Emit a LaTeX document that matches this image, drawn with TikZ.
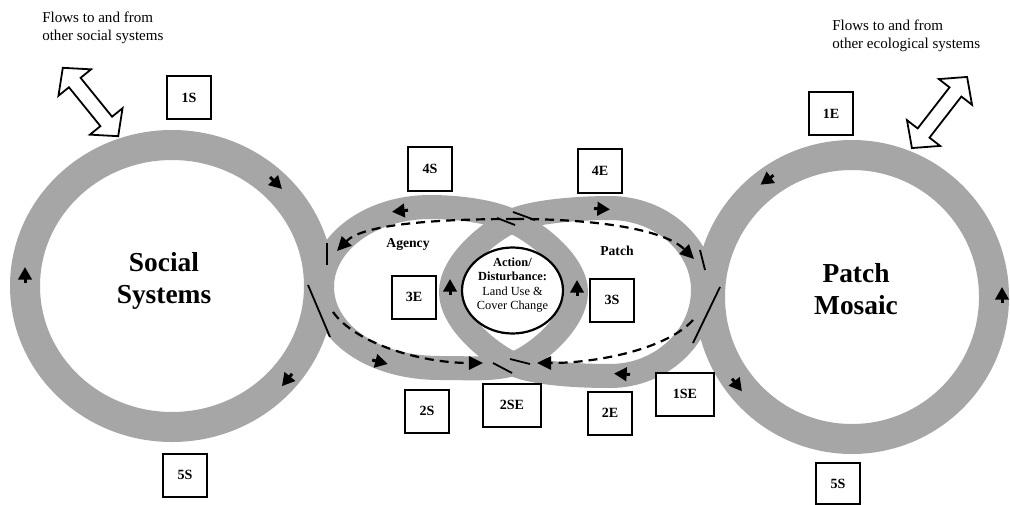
\documentclass[tikz,border=0pt]{standalone}
\usepackage{fontspec}
\setmainfont{Liberation Serif}
\usetikzlibrary{arrows.meta,shapes.geometric}
\newlength\upx
\setlength\upx{0.025cm}
\definecolor{band}{RGB}{166,166,166}
\begin{document}
\begin{tikzpicture}[x=0.025cm, y=-0.025cm,
  bandL/.style={draw=band, line width=30\upx},
  bandM/.style={draw=band, line width=24\upx},
  edgeline/.style={draw=black, line width=1.8\upx},
  flowmark/.style={draw=black, line width=3\upx, -{Triangle[length=9pt,width=9.5pt]}},
  dashflow/.style={draw=black, line width=2.2\upx, dash pattern=on 9\upx off 6\upx, -{Triangle[length=10pt,width=9.5pt]}},
  labelbox/.style={draw=black, line width=2\upx, fill=white, inner sep=0pt, minimum width=44\upx, minimum height=43\upx, font=\fontsize{10}{12}\selectfont\bfseries},
  widebox/.style={labelbox, minimum width=58\upx},
  bigtitle/.style={align=center, font=\fontsize{19.5}{23}\selectfont\bfseries},
  looptitle/.style={font=\fontsize{9.7}{11}\selectfont\bfseries},
  note/.style={align=left, anchor=north west, inner sep=0pt, font=\fontsize{10.7}{12.8}\selectfont},
  flowarrow/.style={draw=black, fill=white, line width=1.8\upx, line join=miter}
]
\useasboundingbox (0,0) rectangle (1010,505);
\fill[white] (0,0) rectangle (1010,505);

% big rings
\draw[bandL] (172,286) ellipse [x radius=147, y radius=141];
\draw[bandL] (852,297) ellipse [x radius=142, y radius=142];

% crossing points of the middle loops
\coordinate (T) at (512,221);
\coordinate (B) at (513,364);

% Agency loop
\draw[bandM] (T) .. controls (489.5,210.5) and (455,207) .. (430,207)
  .. controls (370,207) and (322,243) .. (322,287)
  .. controls (322,331) and (370,368) .. (440,368)
  .. controls (470,368) and (493,370) .. (B)
  .. controls (536.5,355.5) and (576,322) .. (576,292)
  .. controls (576,262) and (534.5,231.5) .. (T);
% Patch loop
\draw[bandM] (T) .. controls (534.5,210.5) and (585,208) .. (610,208)
  .. controls (661,208) and (703,245) .. (703,290)
  .. controls (703,337) and (661,376) .. (610,376)
  .. controls (585,376) and (535.5,374.5) .. (B)
  .. controls (490.5,353.5) and (451,322) .. (451,292)
  .. controls (451,262) and (489.5,231.5) .. (T);

% edge lines at overlaps
\draw[edgeline] (327,243) -- (327,265);
\draw[edgeline] (308,285) -- (330,337);
\draw[edgeline] (700,250) -- (705,270);
\draw[edgeline] (720,287) -- (693,343);
\draw[edgeline] (497,218) -- (515,225);
\draw[edgeline] (513,212) -- (535,220);
\draw[edgeline] (493,363) -- (512,373);
\draw[edgeline] (510,359) -- (530,364);

% flow marks on the bands
\draw[flowmark] (270,177) -- (282,189);
\draw[flowmark] (25,283) -- (25,267);
\draw[flowmark] (292.1,373.8) -- (281.9,386.2);
\draw[flowmark] (773.5,175.3) -- (760.5,184.7);
\draw[flowmark] (1002,303) -- (1002,287);
\draw[flowmark] (732.1,378.7) -- (741.9,391.3);
\draw[flowmark] (408,210.2) -- (392,211.8);
\draw[flowmark] (372.2,360) -- (387.8,364);
\draw[flowmark] (594,208.6) -- (610,209.4);
\draw[flowmark] (630,374.4) -- (614,373.6);
\draw[flowmark] (450,295) -- (450,279);
\draw[flowmark] (577,296) -- (577,280);

% dashed flows
\coordinate (ct) at (515,219);
\coordinate (dl) at (337,251);
\coordinate (dr) at (694,259);
\coordinate (bl1) at (333,312);
\coordinate (bl2) at (483,363);
\coordinate (br1) at (693,320);
\coordinate (br2) at (537,363);
\draw[dashflow] (ct) .. controls (430,219) and (362,225) .. (dl);
\draw[dashflow] (ct) .. controls (600,219) and (665,230) .. (dr);
\draw[dashflow] (bl1) .. controls (355,343) and (420,363) .. (bl2);
\draw[dashflow] (br1) .. controls (668,348) and (600,363) .. (br2);

% central action circle
\node[draw=black, line width=2.2\upx, fill=white, ellipse, inner sep=0pt,
  minimum width=101\upx, minimum height=86\upx] (act) at (512.5,290.5) {};
\node[align=center, font=\fontsize{8.8}{10.2}\selectfont] (acttext) at (512.5,285)
  {\textbf{Action/}\\\textbf{Disturbance:}\\Land Use \&\\Cover Change};

% hollow double arrows
\begin{scope}[shift={(90.5,102)}, rotate=-51]
\draw[flowarrow] (-44,0) -- (-25,-21) -- (-25,-7.5) -- (25,-7.5) -- (25,-21) -- (44,0)
  -- (25,21) -- (25,7.5) -- (-25,7.5) -- (-25,21) -- cycle;
\end{scope}
\begin{scope}[shift={(939.5,112.5)}, rotate=52.2]
\draw[flowarrow] (-45,0) -- (-26,-21) -- (-26,-7.5) -- (26,-7.5) -- (26,-21) -- (45,0)
  -- (26,21) -- (26,7.5) -- (-26,7.5) -- (-26,21) -- cycle;
\end{scope}

% notes
\node[note] (noteS) at (42,12) {Flows to and from\\other social systems};
\node[note] (noteE) at (832,20) {Flows to and from\\other ecological systems};

% titles
\node[bigtitle] (social) at (164,281) {Social\\Systems};
\node[bigtitle] (patchm) at (856,289) {Patch\\Mosaic};
\node[looptitle] (agency) at (408,245) {Agency};
\node[looptitle] (patch) at (617,251) {Patch};

% label boxes
\node[labelbox] (b1S) at (189,98) {1S};
\node[labelbox] (b1E) at (831,114) {1E};
\node[labelbox] (b4S) at (430,169) {4S};
\node[labelbox] (b4E) at (600,171) {4E};
\node[labelbox] (b3E) at (414,297) {3E};
\node[labelbox] (b3S) at (612,300) {3S};
\node[labelbox] (b2S) at (427,411) {2S};
\node[widebox] (b2SE) at (512,405) {2SE};
\node[labelbox] (b2E) at (610,413) {2E};
\node[widebox] (b1SE) at (685,394) {1SE};
\node[labelbox] (b5Sl) at (185,475) {5S};
\node[labelbox, minimum height=41\upx] (b5Sr) at (838,483.5) {5S};
\end{tikzpicture}
\end{document}
